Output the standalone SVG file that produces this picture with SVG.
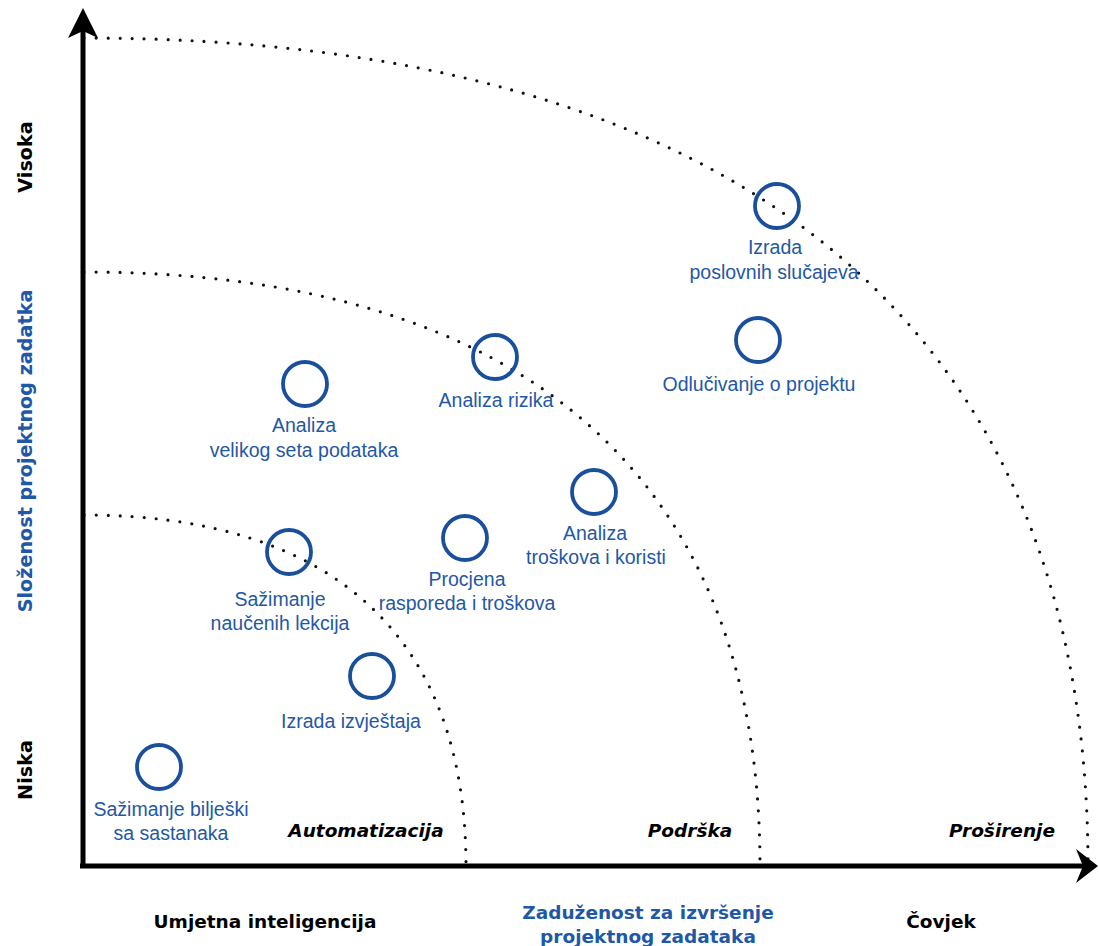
<svg xmlns="http://www.w3.org/2000/svg" width="1099" height="946" viewBox="0 0 1099 946">
<style>
.zone{fill:none;stroke:#111;stroke-width:3.2;stroke-dasharray:0 12;stroke-linecap:round}
.axis{fill:none;stroke:#000;stroke-width:5}
.head{fill:#000}
.node circle{fill:none;stroke:#1a4f9c;stroke-width:3.8}
.lbl{font-family:"Liberation Sans",Arial,sans-serif;font-size:19.5px;fill:#1f58a6;text-anchor:middle}
.cat{font-family:"DejaVu Sans",Verdana,sans-serif;font-size:18.5px;font-weight:bold;font-style:italic;fill:#000;text-anchor:middle}
.ax{font-family:"DejaVu Sans",Verdana,sans-serif;font-size:18.5px;font-weight:bold;fill:#000;text-anchor:middle}
.axv{font-size:19.2px}
.axb{fill:#1f58a6}
</style>
<rect width="1099" height="946" fill="#fff"/>
<g id="zones">
<path class="zone" d="M84,38 C738.6,38 1088,326.1 1088,866"/>
<path class="zone" d="M84,272 C524.8,272 760,478.7 760,866"/>
<path class="zone" d="M84,515 C333.1,515 466,637.1 466,866"/>
</g>
<g id="connectors">
<line class="axis" x1="83" y1="868" x2="83" y2="30"/>
<polygon class="head" points="83,8 98,38 83,31 68,38"/>
<line class="axis" x1="80" y1="866" x2="1085" y2="866"/>
<polygon class="head" points="1098,866 1076,883 1083,866 1076,849"/>
</g>
<g id="axis-labels">
<text class="ax axv" transform="translate(32,157) rotate(-90)">Visoka</text>
<text class="ax axv axb" transform="translate(32,451) rotate(-90)">Složenost projektnog zadatka</text>
<text class="ax axv" transform="translate(32,770) rotate(-90)">Niska</text>
<text class="ax" x="265" y="928">Umjetna inteligencija</text>
<text class="ax axb" x="648" y="919">Zaduženost za izvršenje</text>
<text class="ax axb" x="648" y="943">projektnog zadataka</text>
<text class="ax" x="941" y="928">Čovjek</text>
</g>
<g id="zone-labels">
<text class="cat" x="366" y="837">Automatizacija</text>
<text class="cat" x="690" y="837">Podrška</text>
<text class="cat" x="1002" y="837">Proširenje</text>
</g>
<g id="n-poslovni" class="node"><circle cx="777" cy="206" r="22"/><text class="lbl" x="775" y="254">Izrada<tspan x="774" dy="25">poslovnih slučajeva</tspan></text></g>
<g id="n-odlucivanje" class="node"><circle cx="758" cy="340" r="22"/><text class="lbl" x="759" y="391">Odlučivanje o projektu</text></g>
<g id="n-rizik" class="node"><circle cx="495" cy="357" r="22"/><text class="lbl" x="496" y="407">Analiza rizika</text></g>
<g id="n-podaci" class="node"><circle cx="305" cy="384" r="22"/><text class="lbl" x="304" y="432">Analiza<tspan x="304" dy="25">velikog seta podataka</tspan></text></g>
<g id="n-troskovi" class="node"><circle cx="594" cy="492" r="22"/><text class="lbl" x="595" y="540">Analiza<tspan x="596" dy="24">troškova i koristi</tspan></text></g>
<g id="n-procjena" class="node"><circle cx="465" cy="538" r="22"/><text class="lbl" x="467" y="586">Procjena<tspan x="467" dy="24">rasporeda i troškova</tspan></text></g>
<g id="n-lekcije" class="node"><circle cx="289" cy="552" r="22"/><text class="lbl" x="280" y="606">Sažimanje<tspan x="280" dy="24">naučenih lekcija</tspan></text></g>
<g id="n-izvjestaj" class="node"><circle cx="372" cy="676" r="22"/><text class="lbl" x="351" y="728">Izrada izvještaja</text></g>
<g id="n-biljeske" class="node"><circle cx="159" cy="767" r="22"/><text class="lbl" x="171" y="816">Sažimanje bilješki<tspan x="171" dy="24">sa sastanaka</tspan></text></g>
</svg>
